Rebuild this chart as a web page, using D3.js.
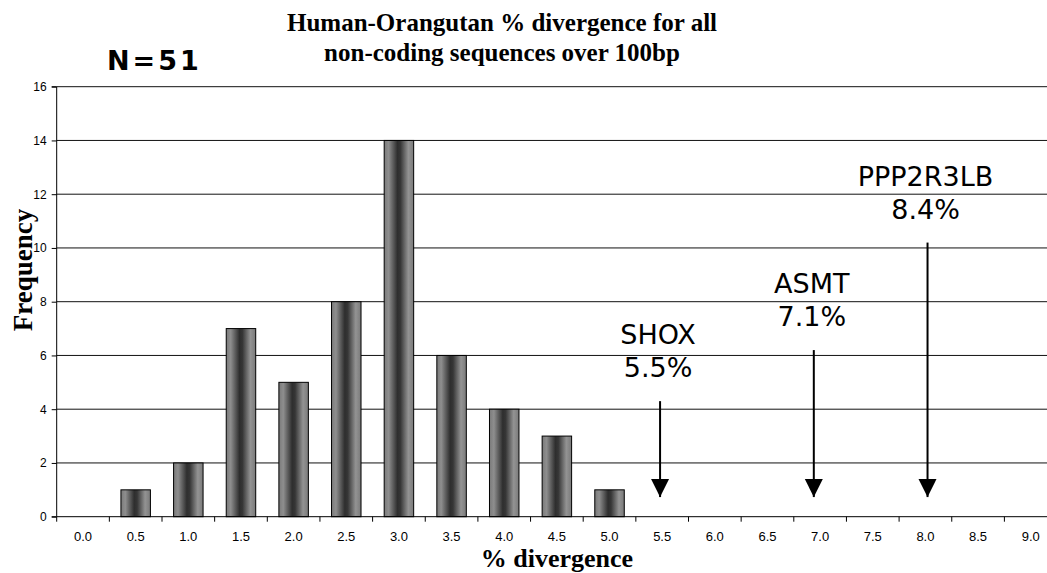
<!DOCTYPE html>
<html>
<head>
<meta charset="utf-8">
<script src="https://cdn.jsdelivr.net/npm/d3@7"></script>
<style>
  html, body { margin: 0; padding: 0; background: #fff; }
  svg { display: block; }
</style>
</head>
<body>
<svg id="chart" width="1047" height="573"></svg>
<script>
// ---- data ----
const categories = ["0.0","0.5","1.0","1.5","2.0","2.5","3.0","3.5","4.0","4.5","5.0","5.5","6.0","6.5","7.0","7.5","8.0","8.5","9.0"];
const frequencies = [0,1,2,7,5,8,14,6,4,3,1,0,0,0,0,0,0,0,0];
const yTicks = [0,2,4,6,8,10,12,14,16];
const annotGenes = ["SHOX","ASMT","PPP2R3LB"];
const annotPercents = ["5.5%","7.1%","8.4%"];
const annotX = [5.48, 6.94, 8.02];        // % divergence where the arrow points
const annotTop = [4.3, 6.2, 10.2];         // frequency level where arrow starts
const annotTip = 0.73;                     // frequency level of arrow tip
const titleLines = ["Human-Orangutan % divergence for all", "non-coding sequences over 100bp"];
const sampleLabel = "N=51";

(function () {
// ---- layout ----
const svg = d3.select("#chart");
const pLeft = 56.7, band = 52.65;
const pRight = pLeft + band * categories.length;
const pTop = 86.7, pBottom = 516.7;

const x = d3.scaleBand().domain(categories).range([pLeft, pRight]).paddingInner(0).paddingOuter(0);
const xLin = d3.scaleLinear().domain([-0.25, 9.25]).range([pLeft, pRight]);
const y = d3.scaleLinear().domain([0,16]).range([pBottom, pTop]);

// gradient for bars
const defs = svg.append("defs");
const grad = defs.append("linearGradient").attr("id","barGrad").attr("x1","0%").attr("x2","100%").attr("y1","0%").attr("y2","0%");
[[0,"#7a7a7a"],[0.15,"#8e8e8e"],[0.45,"#2e2e2e"],[0.55,"#363636"],[0.82,"#939393"],[1,"#7a7a7a"]]
  .forEach(([o,c]) => grad.append("stop").attr("offset", o).attr("stop-color", c));

// gridlines
svg.append("g").selectAll("line").data(yTicks.filter(d => d > 0)).join("line")
  .attr("x1", pLeft).attr("x2", pRight)
  .attr("y1", d => y(d)).attr("y2", d => y(d))
  .attr("stroke", "#111").attr("stroke-width", 1);

// bars
const barW = band * 0.56;
svg.append("g").selectAll("rect").data(categories.map((c,i)=>({c, v: frequencies[i]})).filter(d => d.v > 0)).join("rect")
  .attr("x", d => x(d.c) + (band - barW)/2)
  .attr("width", barW)
  .attr("y", d => y(d.v))
  .attr("height", d => y(0) - y(d.v))
  .attr("fill", "url(#barGrad)")
  .attr("stroke", "#000").attr("stroke-width", 1);

// y axis
const yAxis = d3.axisLeft(y).tickValues(yTicks).tickSize(5).tickPadding(5).tickFormat(d3.format("d"));
const gy = svg.append("g").attr("transform", `translate(${pLeft},0)`).call(yAxis);
gy.select(".domain").attr("stroke","#000").attr("d", `M-5,${pTop}H0V${pBottom}H-5`);
gy.selectAll(".tick line").attr("stroke","#000");
gy.selectAll("text").attr("font-family","Liberation Sans, Arial, sans-serif").attr("font-size", 12).attr("fill","#000");

// x axis
const gx = svg.append("g").attr("transform", `translate(0,${pBottom})`);
gx.append("line").attr("x1", pLeft).attr("x2", pRight).attr("y1",0).attr("y2",0).attr("stroke","#000");
gx.selectAll("line.tk").data(d3.range(categories.length + 1)).join("line").attr("class","tk")
  .attr("x1", i => pLeft + i*band).attr("x2", i => pLeft + i*band)
  .attr("y1", 0).attr("y2", 5).attr("stroke","#000");
gx.selectAll("text").data(categories).join("text")
  .attr("x", d => x(d) + band/2).attr("y", 24.5)
  .attr("text-anchor","middle")
  .attr("font-family","Liberation Sans, Arial, sans-serif").attr("font-size", 13).attr("fill","#000")
  .text(d => d);

// title
svg.append("g").selectAll("text").data(titleLines).join("text")
  .attr("x", 502).attr("y", (d,i) => 31 + i*30)
  .attr("text-anchor","middle")
  .attr("font-family","Liberation Serif, Times New Roman, serif").attr("font-weight","bold").attr("font-size", 25)
  .text(d => d);

// axis titles
svg.append("text").attr("x", (pLeft+pRight)/2).attr("y", 567)
  .attr("text-anchor","middle")
  .attr("font-family","Liberation Serif, Times New Roman, serif").attr("font-weight","bold").attr("font-size", 26)
  .text("% divergence");
svg.append("text").attr("transform", `translate(32,270) rotate(-90)`)
  .attr("text-anchor","middle")
  .attr("font-family","Liberation Serif, Times New Roman, serif").attr("font-weight","bold").attr("font-size", 27)
  .text("Frequency");

// N label
svg.append("text").attr("x", 107).attr("y", 70)
  .attr("font-family","DejaVu Sans, Verdana, sans-serif").attr("font-weight","bold").attr("font-size", 27)
  .attr("letter-spacing", 3)
  .text(sampleLabel);

// annotations
defs.append("marker").attr("id","arrowHead").attr("viewBox","0 0 10 10").attr("refX",10).attr("refY",5)
  .attr("markerWidth",9).attr("markerHeight",9.5).attr("markerUnits","strokeWidth").attr("orient","auto")
  .append("path").attr("d","M0,0L10,5L0,10Z").attr("fill","#000");

const ann = svg.append("g").selectAll("g").data(annotGenes.map((g,i)=>({g, p: annotPercents[i], x: annotX[i], t: annotTop[i]}))).join("g");
ann.append("line")
  .attr("x1", d => xLin(d.x)).attr("x2", d => xLin(d.x))
  .attr("y1", d => y(d.t)).attr("y2", y(annotTip))
  .attr("stroke","#000").attr("stroke-width", 2)
  .attr("marker-end","url(#arrowHead)");
ann.append("text")
  .attr("x", d => xLin(d.x) - 2).attr("y", d => y(d.t) - 57)
  .attr("text-anchor","middle")
  .attr("font-family","DejaVu Sans, Verdana, sans-serif").attr("font-size", 27)
  .text(d => d.g);
ann.append("text")
  .attr("x", d => xLin(d.x) - 2).attr("y", d => y(d.t) - 24)
  .attr("text-anchor","middle")
  .attr("font-family","DejaVu Sans, Verdana, sans-serif").attr("font-size", 27)
  .text(d => d.p);
})();
</script>
</body>
</html>
